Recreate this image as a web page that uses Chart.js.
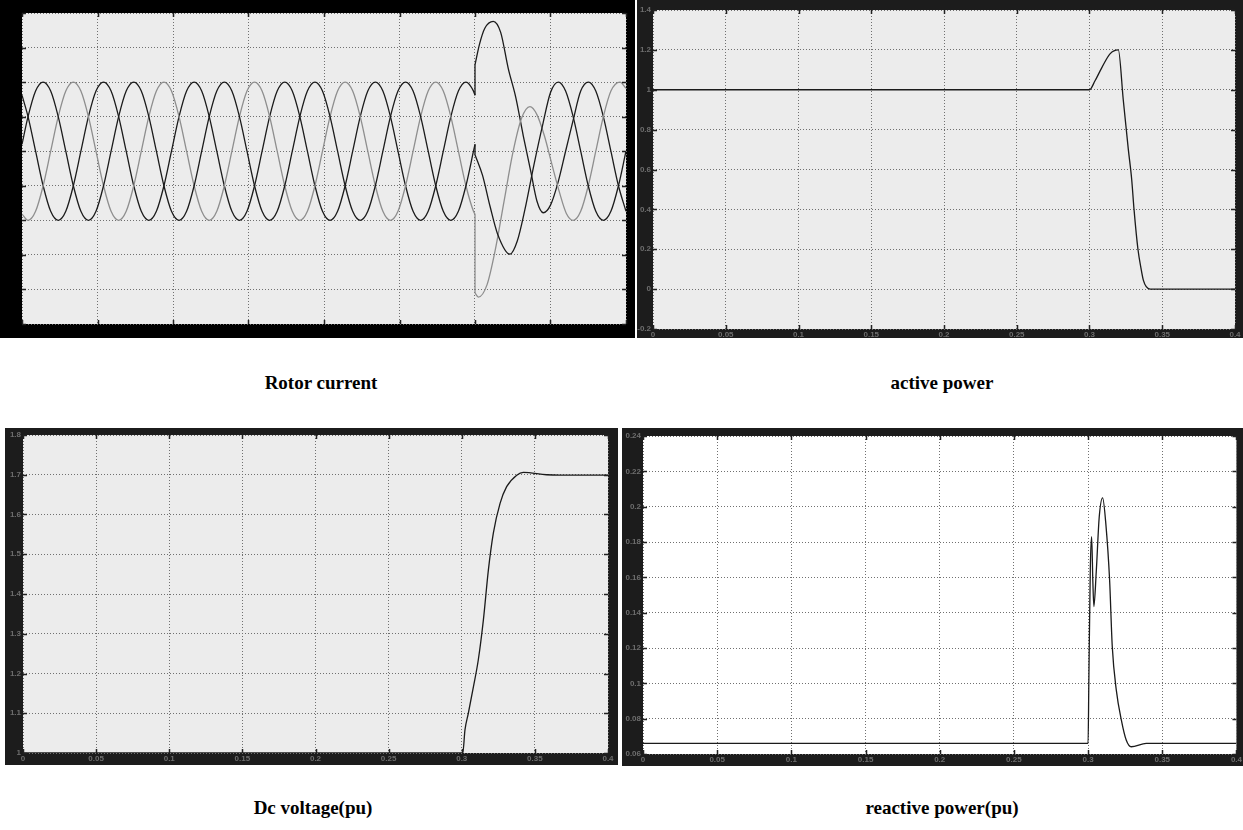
<!DOCTYPE html>
<html>
<head>
<meta charset="utf-8">
<title>DFIG fault response</title>
<script src="https://cdn.jsdelivr.net/npm/chart.js@4.4.1/dist/chart.umd.min.js"></script>
<style>
  body { margin: 0; background: #fff; width: 1243px; height: 830px; position: relative; overflow: hidden; }
  .panel { position: absolute; }
  .caption {
    position: absolute;
    font: bold 19px "Liberation Serif", "Times New Roman", serif;
    color: #000;
    transform: translate(-50%, -50%);
    white-space: nowrap;
  }
</style>
</head>
<body>
<div class="panel" style="left:0px;top:0px"><canvas id="rotorChart" width="635" height="338"></canvas></div>
<div class="panel" style="left:637px;top:0px"><canvas id="activeChart" width="606" height="338"></canvas></div>
<div class="panel" style="left:5px;top:428px"><canvas id="dcChart" width="613" height="337"></canvas></div>
<div class="panel" style="left:622px;top:428px"><canvas id="reactiveChart" width="621" height="338"></canvas></div>

<div class="caption" style="left:321px;top:383px">Rotor current</div>
<div class="caption" style="left:942px;top:383px">active power</div>
<div class="caption" style="left:313px;top:808px">Dc voltage(pu)</div>
<div class="caption" style="left:942px;top:808px">reactive power(pu)</div>

<script>
// time axis (s), shared by all four scopes
const timeRange = [0, 0.4, 0.05];

// --- Rotor current (three phases), before the fault at t = 0.3 s ---
const tPre = [0, 0.004, 0.009, 0.014, 0.019, 0.024, 0.029, 0.034, 0.039, 0.044, 0.049, 0.054, 0.059,
  0.064, 0.069, 0.074, 0.079, 0.084, 0.089, 0.094, 0.099, 0.104, 0.109, 0.114, 0.119,
  0.124, 0.129, 0.134, 0.139, 0.144, 0.149, 0.154, 0.159, 0.164, 0.169, 0.174, 0.179,
  0.184, 0.189, 0.194, 0.199, 0.204, 0.209, 0.214, 0.219, 0.224, 0.229, 0.234, 0.239,
  0.244, 0.249, 0.254, 0.259, 0.264, 0.269, 0.274, 0.279, 0.284, 0.289, 0.294, 0.299, 0.3];
const phaseAPre = [0.10,
  0.5, 0.87, 1, 0.87, 0.5, 0, -0.5, -0.87, -1, -0.87, -0.5, 0,
  0.5, 0.87, 1, 0.87, 0.5, 0, -0.5, -0.87, -1, -0.87, -0.5, 0,
  0.5, 0.87, 1, 0.87, 0.5, 0, -0.5, -0.87, -1, -0.87, -0.5, 0,
  0.5, 0.87, 1, 0.87, 0.5, 0, -0.5, -0.87, -1, -0.87, -0.5, 0,
  0.5, 0.87, 1, 0.87, 0.5, 0, -0.5, -0.87, -1, -0.87, -0.5, 0,
  0.10];
const phaseBPre = [-0.91,
  -1, -0.87, -0.5, 0, 0.5, 0.87, 1, 0.87, 0.5, 0, -0.5, -0.87,
  -1, -0.87, -0.5, 0, 0.5, 0.87, 1, 0.87, 0.5, 0, -0.5, -0.87,
  -1, -0.87, -0.5, 0, 0.5, 0.87, 1, 0.87, 0.5, 0, -0.5, -0.87,
  -1, -0.87, -0.5, 0, 0.5, 0.87, 1, 0.87, 0.5, 0, -0.5, -0.87,
  -1, -0.87, -0.5, 0, 0.5, 0.87, 1, 0.87, 0.5, 0, -0.5, -0.87,
  -0.91];
const phaseCPre = [0.81,
  0.5, 0, -0.5, -0.87, -1, -0.87, -0.5, 0, 0.5, 0.87, 1, 0.87,
  0.5, 0, -0.5, -0.87, -1, -0.87, -0.5, 0, 0.5, 0.87, 1, 0.87,
  0.5, 0, -0.5, -0.87, -1, -0.87, -0.5, 0, 0.5, 0.87, 1, 0.87,
  0.5, 0, -0.5, -0.87, -1, -0.87, -0.5, 0, 0.5, 0.87, 1, 0.87,
  0.5, 0, -0.5, -0.87, -1, -0.87, -0.5, 0, 0.5, 0.87, 1, 0.87,
  0.81];

// --- Rotor current after the fault ---
const tAPost = [0.3, 0.305, 0.31, 0.315, 0.3232, 0.328, 0.333, 0.339, 0.345, 0.35, 0.3552,
  0.36, 0.365, 0.37, 0.375, 0.38, 0.385, 0.39, 0.395, 0.4];
const phaseAPost = [-0.05, -0.35, -0.8, -1.2, -1.49, -1.3, -0.85, -0.2, 0.4, 0.85, 1.0,
  0.87, 0.5, 0, -0.5, -0.87, -1, -0.87, -0.5, 0];
const tBPost = [0.3, 0.3022, 0.308, 0.3135, 0.3192, 0.3249, 0.3307, 0.3364, 0.341, 0.346, 0.3508,
  0.356, 0.3605, 0.3651, 0.37, 0.375, 0.38, 0.385, 0.39, 0.396, 0.4];
const phaseBPost = [-2.05, -2.11, -1.93, -1.42, -0.73, -0.04, 0.47, 0.645, 0.53, 0.22, -0.18,
  -0.6, -0.9, -1, -0.87, -0.5, 0, 0.5, 0.87, 1, 0.91];
const tCPost = [0.3, 0.303, 0.3065, 0.3121, 0.317, 0.322, 0.327, 0.332, 0.337, 0.341, 0.3452,
  0.35, 0.355, 0.36, 0.365, 0.37, 0.3751, 0.38, 0.385, 0.39, 0.395, 0.4];
const phaseCPost = [1.25, 1.55, 1.78, 1.88, 1.72, 1.2, 0.78, 0.22, -0.3, -0.72, -0.89,
  -0.78, -0.45, 0, 0.45, 0.87, 1, 0.87, 0.5, 0, -0.5, -0.87];
const rotorYRange = [-2.5, 2, 0.5];

// --- Active power ---
const tActive = [0, 0.3, 0.3038, 0.3084, 0.3141, 0.3198, 0.3232, 0.3267, 0.329, 0.3306,
  0.3333, 0.3355, 0.337, 0.339, 0.3416, 0.4];
const activePower = [1, 1, 1.045, 1.11, 1.18, 1.2, 0.95, 0.7, 0.55, 0.4,
  0.2, 0.1, 0.045, 0.012, 0, 0];
const activeYRange = [-0.2, 1.4, 0.2];

// --- DC link voltage ---
const tDc = [0, 0.3007, 0.3022, 0.3045, 0.308, 0.3113, 0.3148, 0.3182, 0.3216, 0.3262,
  0.3307, 0.3376, 0.3421, 0.358, 0.3672, 0.4];
const dcVoltage = [1, 1, 1.058, 1.1, 1.167, 1.234, 1.335, 1.46, 1.553, 1.628,
  1.67, 1.699, 1.706, 1.70, 1.699, 1.699];
const dcYRange = [1, 1.8, 0.1];

// --- Reactive power ---
const tReactive = [0, 0.3, 0.3005, 0.3015, 0.3024, 0.3032, 0.3039, 0.3055, 0.3075, 0.3098,
  0.312, 0.3145, 0.3163, 0.319, 0.3224, 0.3257, 0.3291, 0.3392, 0.35, 0.4];
const reactivePower = [0.066, 0.066, 0.1, 0.165, 0.183, 0.158, 0.1435, 0.163, 0.194, 0.205,
  0.19, 0.1586, 0.1208, 0.0963, 0.0793, 0.0679, 0.0641, 0.066, 0.066, 0.066];
const reactiveYRange = [0.06, 0.24, 0.02];

const DARK = '#1b1b1b';
const GREY = '#8e8e8e';

function pts(ts, vs) {
  return ts.map((t, i) => ({ x: t, y: vs[i] }));
}

function curve(data, color, smooth) {
  return {
    data: data,
    borderColor: color,
    borderWidth: 1.3,
    pointRadius: 0,
    fill: false,
    cubicInterpolationMode: smooth ? 'monotone' : 'default',
    tension: 0
  };
}

// scope look: frame, plot background and inward tick marks
const scopePlugin = {
  id: 'scope',
  beforeDraw(chart, args, opts) {
    const { ctx, chartArea: a, width, height } = chart;
    ctx.save();
    ctx.fillStyle = opts.frame;
    ctx.fillRect(0, 0, width, height);
    ctx.fillStyle = opts.plot;
    ctx.fillRect(a.left, a.top, a.right - a.left, a.bottom - a.top);
    ctx.restore();
  },
  afterDraw(chart) {
    const { ctx, chartArea: a } = chart;
    const xs = chart.scales.x, ys = chart.scales.y;
    ctx.save();
    ctx.strokeStyle = '#222';
    ctx.lineWidth = 1.5;
    ctx.beginPath();
    xs.ticks.forEach((t, i) => {
      const px = Math.round(xs.getPixelForTick(i)) + 0.5;
      ctx.moveTo(px, a.top); ctx.lineTo(px, a.top + 4);
      ctx.moveTo(px, a.bottom); ctx.lineTo(px, a.bottom - 4);
    });
    ys.ticks.forEach((t, i) => {
      const py = Math.round(ys.getPixelForTick(i)) + 0.5;
      ctx.moveTo(a.left, py); ctx.lineTo(a.left + 4, py);
      ctx.moveTo(a.right, py); ctx.lineTo(a.right - 4, py);
    });
    ctx.stroke();
    ctx.restore();
  }
};

function fmt(v) {
  return String(+v.toFixed(3));
}

function makeScope(id, datasets, yRange, box) {
  const tickFont = { family: 'Liberation Sans, Arial, sans-serif', size: 8, weight: 'bold' };
  return new Chart(document.getElementById(id), {
    type: 'line',
    data: { datasets: datasets },
    plugins: [scopePlugin],
    options: {
      responsive: false,
      devicePixelRatio: 1,
      animation: false,
      layout: { padding: { left: 0, top: box.top, right: box.right, bottom: 0 } },
      plugins: {
        legend: { display: false },
        tooltip: { enabled: false },
        scope: { frame: box.frame, plot: box.plot }
      },
      scales: {
        x: {
          type: 'linear',
          min: timeRange[0],
          max: timeRange[1],
          afterFit: s => { s.height = box.bottom; },
          grid: { color: '#707070', lineWidth: 1, drawTicks: false },
          border: { display: false, dash: [1, 2] },
          ticks: { stepSize: timeRange[2], padding: 1, color: box.label, font: tickFont,
                   maxRotation: 0, autoSkip: false, callback: fmt }
        },
        y: {
          type: 'linear',
          min: yRange[0],
          max: yRange[1],
          afterFit: s => { s.width = box.left; },
          grid: { color: '#707070', lineWidth: 1, drawTicks: false },
          border: { display: false, dash: [1, 2] },
          ticks: { stepSize: yRange[2], padding: 2, color: box.label, font: tickFont,
                   autoSkip: false, callback: fmt }
        }
      }
    }
  });
}

window.addEventListener('load', () => {
  makeScope('rotorChart', [
    curve(pts(tPre, phaseAPre), DARK, true),
    curve(pts(tPre, phaseBPre), GREY, true),
    curve(pts(tPre, phaseCPre), DARK, true),
    curve(pts([0.3, 0.3], [phaseAPre[phaseAPre.length - 1], phaseAPost[0]]), DARK, false),
    curve(pts([0.3, 0.3], [phaseBPre[phaseBPre.length - 1], phaseBPost[0]]), GREY, false),
    curve(pts([0.3, 0.3], [phaseCPre[phaseCPre.length - 1], phaseCPost[0]]), DARK, false),
    curve(pts(tAPost, phaseAPost), DARK, true),
    curve(pts(tBPost, phaseBPost), GREY, true),
    curve(pts(tCPost, phaseCPost), DARK, true)
  ], rotorYRange, { left: 22, top: 13, right: 9, bottom: 14, frame: '#000', plot: '#ececec', label: '#000' });

  makeScope('activeChart', [curve(pts(tActive, activePower), DARK, true)], activeYRange,
    { left: 16, top: 10, right: 8, bottom: 9, frame: '#1c1c1c', plot: '#ececec', label: '#6e6e6e' });

  makeScope('dcChart', [curve(pts(tDc, dcVoltage), DARK, true)], dcYRange,
    { left: 18, top: 7, right: 10, bottom: 12, frame: '#1c1c1c', plot: '#ececec', label: '#6e6e6e' });

  makeScope('reactiveChart', [curve(pts(tReactive, reactivePower), DARK, true)], reactiveYRange,
    { left: 21, top: 8, right: 6, bottom: 12, frame: '#1c1c1c', plot: '#ffffff', label: '#6e6e6e' });
});
</script>
</body>
</html>
